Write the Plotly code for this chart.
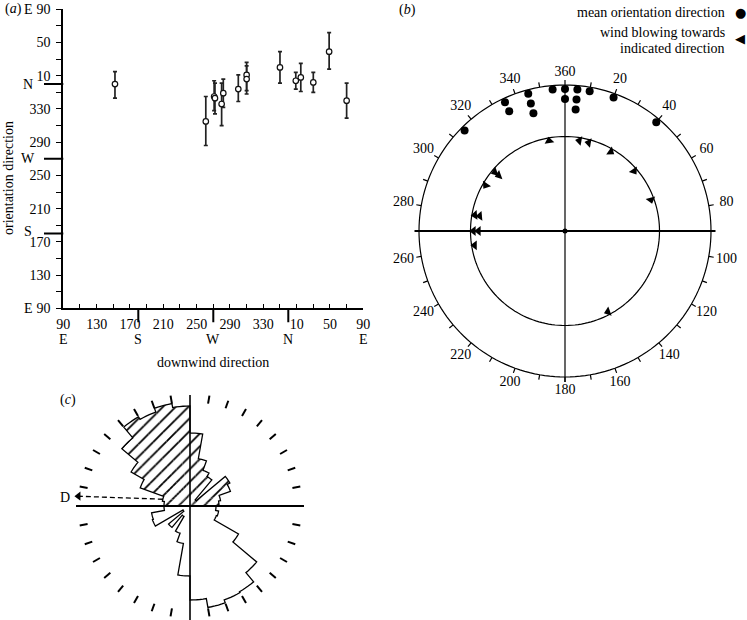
import numpy as np
import plotly.graph_objects as go

W, H = 747, 620
SERIF = "Liberation Serif"
INK = "black"

# ---------------- panel (a) data ----------------
downwind = [152, 261, 271, 272, 280, 282, 300, 310, 310, 350, 9, 15, 30, 49, 70]
orientation = [0, 315, 345, 343, 336, 349, 354, 11, 6, 20, 4, 8, 2, 39, 340]
orient_err_up = [15, 30, 19, 18, 25, 17, 17, 15, 16, 19, 10, 17, 12, 23, 21]
orient_err_down = [17, 29, 17, 19, 26, 17, 15, 19, 18, 19, 10, 17, 12, 21, 21]
axis_ticks = list(range(90, 451, 20))
axis_labelled = list(range(90, 451, 40))
cardinal_names = ["E", "S", "W", "N", "E"]
cardinal_deg = [90, 180, 270, 360, 450]

# ---------------- panel (b) data ----------------
mean_orient = [315, 335, 335, 345, 345, 345, 355, 0, 0, 5, 5, 5, 10, 20, 40]
wind_towards = [350, 9, 15, 30, 49, 70, 152, 261, 270, 270, 280, 280, 300, 310, 310]
wind_glyph_angle = [350, 280, 280, 125, 145, 165, 250, 270, 270, 270, 265, 265, 215, 250, 250]
compass_ticks = list(range(0, 360, 10))
compass_labels = list(range(0, 360, 20))

# ---------------- panel (c) data ----------------
rose_edges = list(range(0, 360, 10))
rose_len = [73, 48, 38, 34, 8, 46, 43, 31, 29,
            26, 29, 28, 56, 87, 99, 100, 103, 94,
            70, 38, 29, 12, 28, 8, 40, 39, 26,
            26, 28, 53, 68, 89, 103, 100, 104, 100]
rose_hatched = [e < 90 or e >= 270 for e in rose_edges]
D_theta = [284, 275]
D_len = [28, 112]

# ---------------- layout geometry (pixels) ----------------
A_X0, A_X1 = 63.3, 363.3
A_YB, A_YT = 308.3, 9.3
B_CX, B_CY, B_SPAN = 565, 231, 175
B_R, B_RIN = 146, 94.5
C_CX, C_CY, C_SPAN = 190, 506, 114


def unwrap(v):
    return v + 360 if v < 90 else v


def stack_levels(vals):
    seen, out = {}, []
    for v in vals:
        k = seen.get(v, 0)
        out.append(k)
        seen[v] = k + 1
    return out


def txt(text, x, y, size=14, family=SERIF, xanchor="center", **kw):
    return dict(text=text, xref="paper", yref="paper", x=x / W, y=1 - y / H,
                xanchor=xanchor, yanchor="middle", showarrow=False,
                font=dict(family=family, size=size, color=INK), **kw)


fig = go.Figure()

# ---------------- panel (a) ----------------
fig.add_trace(go.Scatter(
    x=[unwrap(v) for v in downwind], y=[unwrap(v) for v in orientation],
    mode="markers", xaxis="x", yaxis="y", cliponaxis=False,
    marker=dict(symbol="circle", size=5.5, color="white", line=dict(color="#111", width=1.2)),
    error_y=dict(type="data", symmetric=False, array=orient_err_up, arrayminus=orient_err_down,
                 color="#222", thickness=1.7, width=2),
    hoverinfo="skip"))

tick_text = [str(v % 360) if v in axis_labelled else "" for v in axis_ticks]
axis_common = dict(range=[90, 450], tickmode="array", tickvals=axis_ticks, ticktext=tick_text,
                   showgrid=False, zeroline=False, showline=True, linecolor=INK, linewidth=1.8,
                   tickcolor=INK, tickwidth=1.4, automargin=False,
                   tickfont=dict(family=SERIF, size=14, color=INK))

fig.update_layout(
    xaxis=dict(domain=[A_X0 / W, A_X1 / W], anchor="y", ticks="inside", ticklen=4,
               ticklabelstandoff=2, **axis_common),
    yaxis=dict(domain=[1 - A_YB / H, 1 - A_YT / H], anchor="x", ticks="outside", ticklen=5,
               ticklabelstandoff=3, **axis_common),
)

shapes = []
annotations = []
a_w = A_X1 - A_X0
a_h = A_YB - A_YT
px_deg = a_h / 360.0
for name, d in zip(cardinal_names, cardinal_deg):
    if d not in (90, 450):
        shapes.append(dict(type="line", xref="x domain", yref="y", x0=-(A_X0 - 44) / a_w, x1=0,
                           y0=d, y1=d, line=dict(color=INK, width=2)))
        shapes.append(dict(type="line", xref="x", yref="y domain", x0=d, x1=d,
                           y0=0, y1=-14 / a_h, line=dict(color=INK, width=2)))
    # letter sits a touch above its long tick (as in the reference)
    lift = 2.5 / px_deg if d == 180 else 0
    annotations.append(dict(text=name, xref="x domain", yref="y", x=(28 - A_X0) / a_w, y=d + lift,
                            xanchor="center", yanchor="middle",
                            showarrow=False, font=dict(family=SERIF, size=14, color=INK)))
    annotations.append(dict(text=name, xref="x", yref="y domain", x=d, y=-(339 - A_YB) / a_h,
                            xanchor="center", yanchor="middle",
                            showarrow=False, font=dict(family=SERIF, size=14, color=INK)))

annotations += [
    txt("orientation direction", 8, 178, textangle=-90),
    txt("downwind direction", 213, 362),
    txt("(<i>a</i>)", 13, 9),
    txt("(<i>b</i>)", 407, 10),
    txt("(<i>c</i>)", 68, 400),
]

# ---------------- panel (b) ----------------
circ = np.arange(0, 361, 2)
line_b = dict(color=INK, width=1.2)
fig.add_trace(go.Scatterpolar(theta=circ, r=[B_R] * len(circ), mode="lines", line=line_b,
                              subplot="polar", hoverinfo="skip"))
fig.add_trace(go.Scatterpolar(theta=circ, r=[B_RIN] * len(circ), mode="lines", line=line_b,
                              subplot="polar", hoverinfo="skip"))
tk_t, tk_r = [], []
for t in compass_ticks:
    tk_t += [t, t, None]
    tk_r += [B_R, B_R + 5, None]
fig.add_trace(go.Scatterpolar(theta=tk_t, r=tk_r, mode="lines", line=line_b,
                              subplot="polar", hoverinfo="skip"))
fig.add_trace(go.Scatterpolar(
    theta=compass_labels,
    r=[B_R + 13 + 5 * abs(np.sin(np.radians(t))) for t in compass_labels],
    text=["360" if t == 0 else str(t) for t in compass_labels],
    mode="text", textfont=dict(family=SERIF, size=14, color=INK),
    subplot="polar", cliponaxis=False, hoverinfo="skip"))
fig.add_trace(go.Scatterpolar(theta=[0, 180], r=[B_R, B_R + 5], mode="lines", line=line_b,
                              subplot="polar", hoverinfo="skip"))
fig.add_trace(go.Scatterpolar(theta=[270, 90], r=[B_R + 4, B_R + 4], mode="lines",
                              line=dict(color=INK, width=2), subplot="polar", hoverinfo="skip"))
fig.add_trace(go.Scatterpolar(theta=[0], r=[0], mode="markers", marker=dict(color=INK, size=5),
                              subplot="polar", hoverinfo="skip"))
lv = stack_levels(mean_orient)
fig.add_trace(go.Scatterpolar(theta=mean_orient, r=[B_R - 4 - 10 * k for k in lv], mode="markers",
                              marker=dict(color=INK, size=8), subplot="polar", hoverinfo="skip"))
lw = stack_levels(wind_towards)
fig.add_trace(go.Scatterpolar(theta=wind_towards, r=[B_RIN - 3 - 5 * k for k in lw], mode="markers",
                              marker=dict(color=INK, size=8.5, symbol="triangle-up", angle=wind_glyph_angle),
                              subplot="polar", hoverinfo="skip"))

annotations += [
    txt("mean orientation direction", 727, 12, xanchor="right"),
    txt("wind blowing towards", 727, 32, xanchor="right"),
    txt("indicated direction", 727, 49, xanchor="right"),
    txt("●", 740, 12, size=13, family="DejaVu Sans"),
    txt("◀", 740, 39, size=13, family="DejaVu Sans"),
]

# ---------------- panel (c) ----------------
hat_theta = [e + 5 for e, h in zip(rose_edges, rose_hatched) if h]
hat_r = [r for r, h in zip(rose_len, rose_hatched) if h]
fig.add_trace(go.Barpolar(theta=hat_theta, r=hat_r, width=[10] * len(hat_theta), subplot="polar2",
                          marker=dict(color="white", line=dict(width=0),
                                      pattern=dict(shape="/", fgcolor=INK, bgcolor="white",
                                                   size=9, solidity=0.2)),
                          hoverinfo="skip"))
o_t, o_r = [], []
for e, r in zip(rose_edges, rose_len):
    for a in np.linspace(e, e + 10, 6):
        o_t.append(float(a))
        o_r.append(r)
o_t.append(o_t[0])
o_r.append(o_r[0])
fig.add_trace(go.Scatterpolar(theta=o_t, r=o_r, mode="lines", line=dict(color=INK, width=1.3),
                              subplot="polar2", hoverinfo="skip"))
fig.add_trace(go.Scatterpolar(theta=[0, 180], r=[111, C_SPAN], mode="lines",
                              line=dict(color=INK, width=1.6), subplot="polar2", hoverinfo="skip"))
fig.add_trace(go.Scatterpolar(theta=[270, 90], r=[C_SPAN, C_SPAN], mode="lines",
                              line=dict(color=INK, width=2), subplot="polar2", hoverinfo="skip"))
ds_t, ds_r = [], []
for t in range(10, 360, 10):
    if t % 90:
        ds_t += [t, t, None]
        ds_r += [104, 112, None]
fig.add_trace(go.Scatterpolar(theta=ds_t, r=ds_r, mode="lines", line=dict(color=INK, width=2),
                              subplot="polar2", hoverinfo="skip"))
fig.add_trace(go.Scatterpolar(theta=D_theta, r=D_len, mode="lines",
                              line=dict(color=INK, width=1.3, dash="5px,3px"),
                              subplot="polar2", hoverinfo="skip"))
fig.add_trace(go.Scatterpolar(theta=[D_theta[-1]], r=[D_len[-1]], mode="markers",
                              marker=dict(symbol="triangle-left", size=8, color=INK),
                              subplot="polar2", cliponaxis=False, hoverinfo="skip"))
annotations.append(txt("D", 65, 497))

fig.update_layout(
    template="none",
    width=W, height=H, margin=dict(l=0, r=0, t=0, b=0, pad=0, autoexpand=False),
    paper_bgcolor="white", plot_bgcolor="white", showlegend=False,
    font=dict(family=SERIF, size=14, color=INK),
    polar=dict(domain=dict(x=[(B_CX - B_SPAN) / W, (B_CX + B_SPAN) / W],
                           y=[1 - (B_CY + B_SPAN) / H, 1 - (B_CY - B_SPAN) / H]),
               bgcolor="rgba(0,0,0,0)",
               radialaxis=dict(visible=False, range=[0, B_SPAN]),
               angularaxis=dict(visible=False, rotation=90, direction="clockwise")),
    polar2=dict(domain=dict(x=[(C_CX - C_SPAN) / W, (C_CX + C_SPAN) / W],
                            y=[max(0.0, 1 - (C_CY + C_SPAN) / H), 1 - (C_CY - C_SPAN) / H]),
                bgcolor="rgba(0,0,0,0)", bargap=0,
                radialaxis=dict(visible=False, range=[0, C_SPAN]),
                angularaxis=dict(visible=False, rotation=90, direction="clockwise")),
    shapes=shapes, annotations=annotations,
)

fig.write_html("out.html", config={"displayModeBar": False},
               post_script="document.body.style.margin='0';document.body.style.padding='0';"
                           "document.documentElement.style.overflow='hidden';")
